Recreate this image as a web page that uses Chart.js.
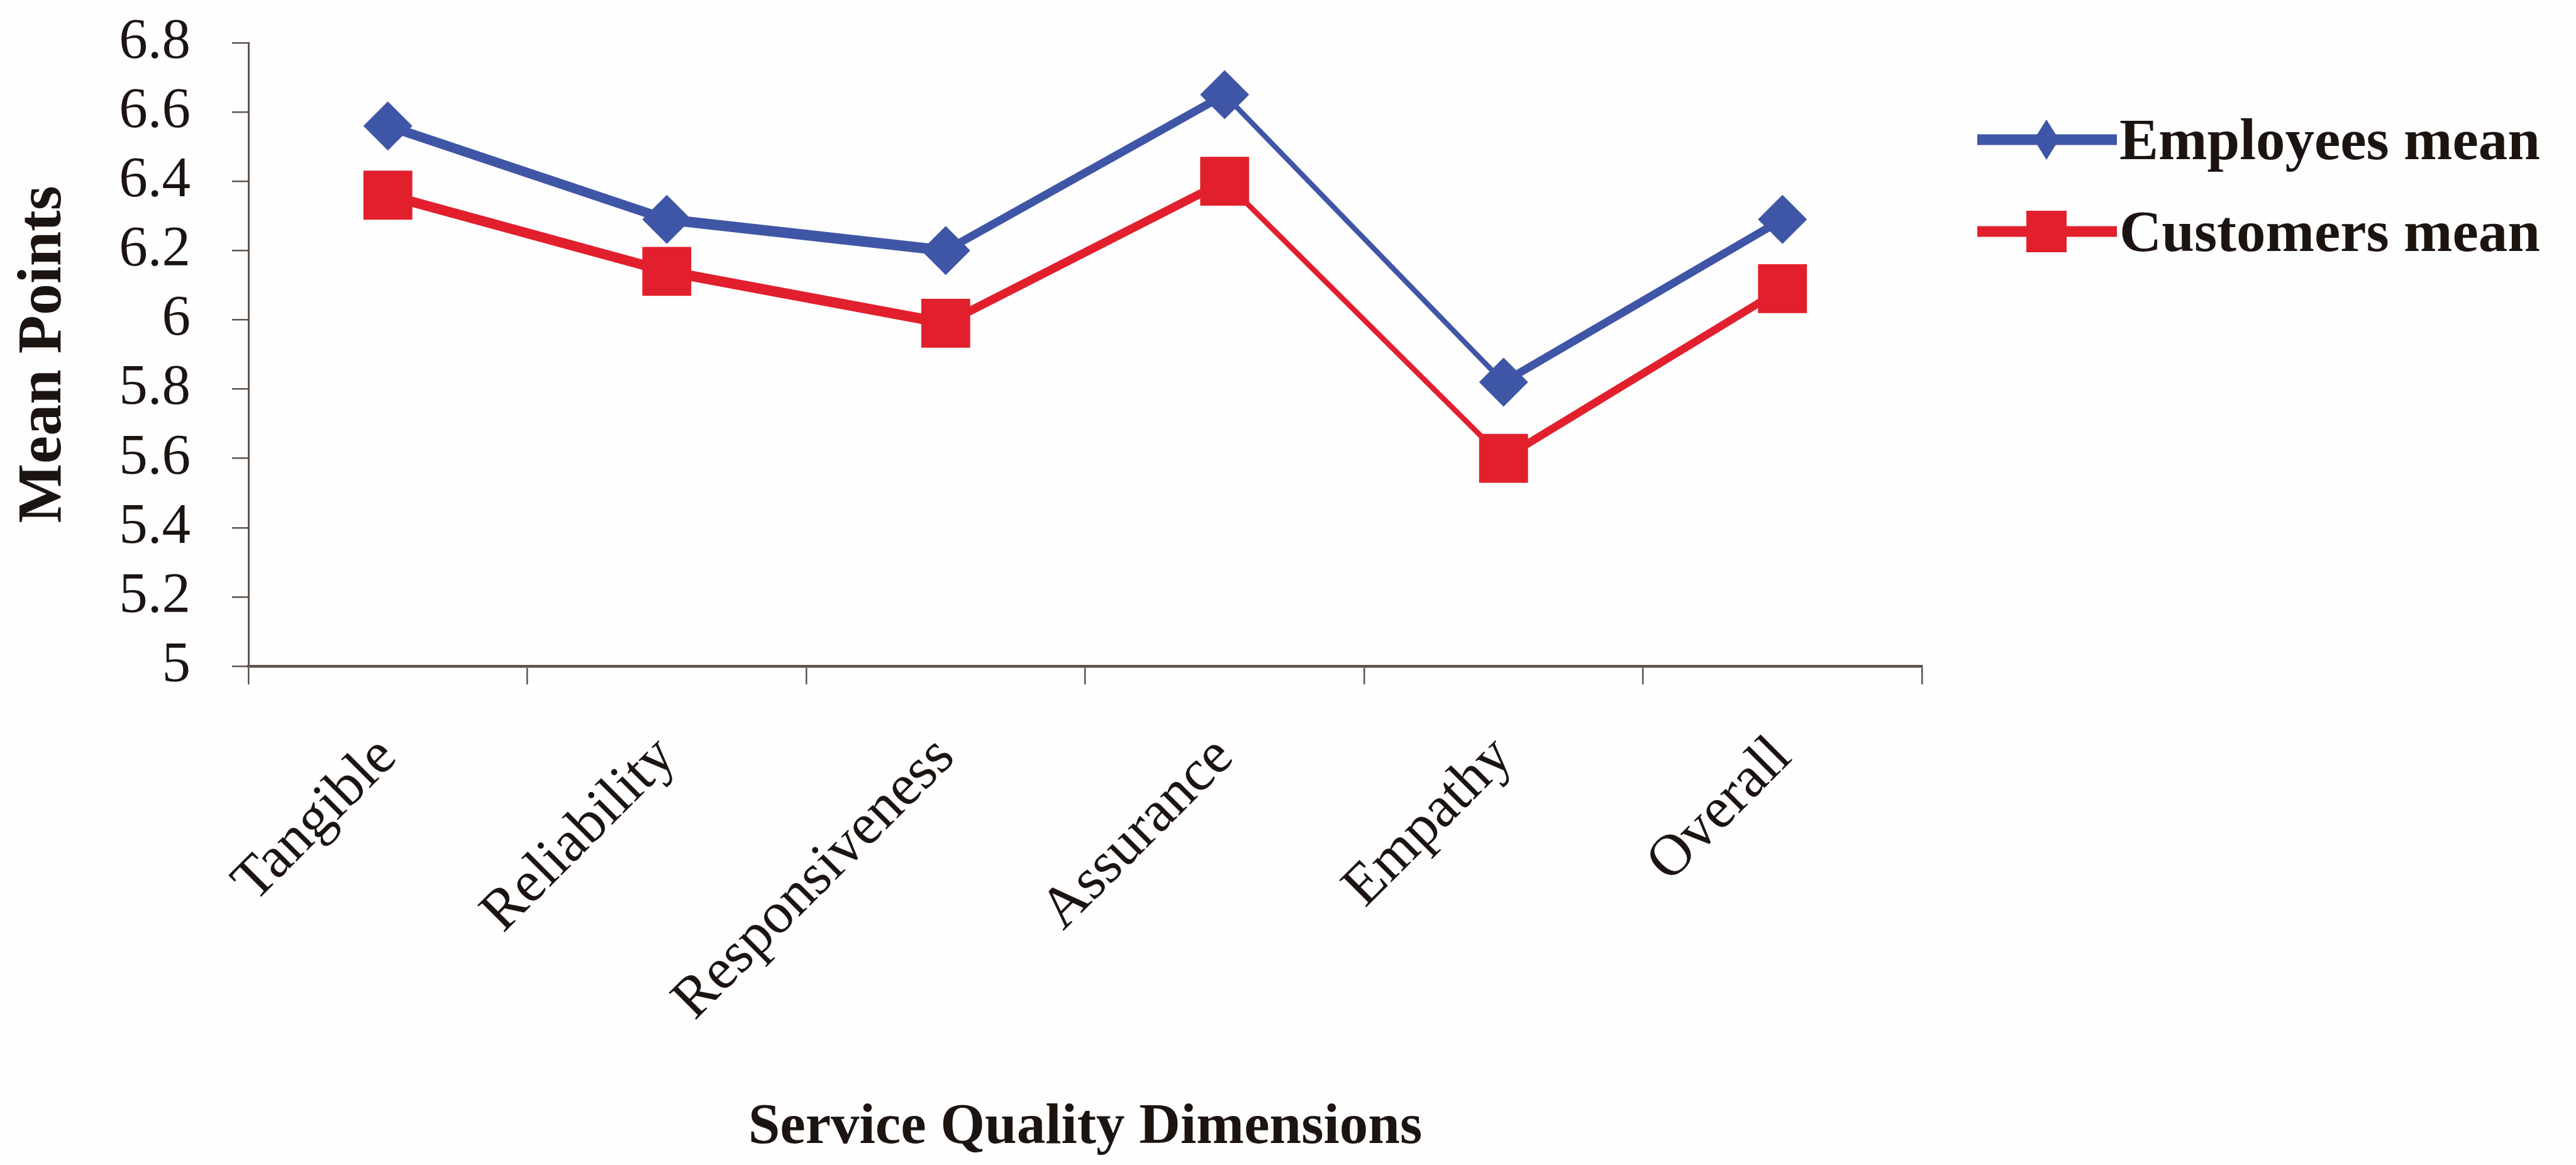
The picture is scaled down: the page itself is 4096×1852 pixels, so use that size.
<!DOCTYPE html>
<html>
<head>
<meta charset="utf-8">
<title>Service Quality Dimensions</title>
<script src="https://cdn.jsdelivr.net/npm/chart.js@4.4.1/dist/chart.umd.min.js"></script>
<style>
  html, body { margin: 0; padding: 0; background: #fefefe; }
  canvas { display: block; }
</style>
</head>
<body>
<canvas id="lineChart" width="4096" height="1852"></canvas>
<script>
// Values
const categories = ['Tangible', 'Reliability', 'Responsiveness', 'Assurance', 'Empathy', 'Overall'];
const employeesMean = [6.56, 6.29, 6.20, 6.65, 5.82, 6.29];
const customersMean = [6.36, 6.14, 5.99, 6.40, 5.60, 6.09];
const seriesLabels = ['Employees mean', 'Customers mean'];
const yTickValues = [5, 5.2, 5.4, 5.6, 5.8, 6, 6.2, 6.4, 6.6, 6.8];

const serif = "'Liberation Serif', 'Times New Roman', serif";
const ink = '#1c1411';
const axisColor = '#5e524a';
const blue = '#3f56a6';
const red = '#e2202d';

// the scanned lines are thick when flat and thinner when steep
function segmentWidth(ctx) {
    const dx = ctx.p1.x - ctx.p0.x;
    const dy = ctx.p1.y - ctx.p0.y;
    const c = dx / Math.hypot(dx, dy);
    return Math.max(7, 17 * c * c);
}

// paper coloured background
const paper = {
    id: 'paper',
    beforeDraw(chart) {
        const ctx = chart.ctx;
        ctx.save();
        ctx.fillStyle = '#fefefe';
        ctx.fillRect(0, 0, chart.width, chart.height);
        ctx.restore();
    }
};

// legend on the right: line with the marker in the middle, then the label
const sideLegend = {
    id: 'sideLegend',
    afterDraw(chart) {
        const ctx = chart.ctx;
        const rows = [222, 368];
        chart.data.datasets.forEach(function (ds, i) {
            const y = rows[i];
            const mx = 3254;
            ctx.save();
            ctx.strokeStyle = ds.borderColor;
            ctx.fillStyle = ds.borderColor;
            ctx.lineWidth = 17;
            ctx.beginPath();
            ctx.moveTo(3144, y);
            ctx.lineTo(3366, y);
            ctx.stroke();
            ctx.beginPath();
            if (ds.pointStyle === 'rectRot') {
                ctx.moveTo(mx, y - 32);
                ctx.lineTo(mx + 20, y);
                ctx.lineTo(mx, y + 32);
                ctx.lineTo(mx - 20, y);
                ctx.closePath();
            } else {
                ctx.rect(mx - 32, y - 33, 64, 66);
            }
            ctx.fill();
            ctx.fillStyle = ink;
            ctx.font = 'bold 93px ' + serif;
            ctx.textBaseline = 'alphabetic';
            ctx.textAlign = 'left';
            ctx.fillText(ds.label, 3370, y + 31);
            ctx.restore();
        });
    }
};

const ctx = document.getElementById('lineChart').getContext('2d');
const chart = new Chart(ctx, {
    type: 'line',
    data: {
        labels: categories,
        datasets: [{
            label: seriesLabels[0],
            data: employeesMean,
            borderColor: blue,
            backgroundColor: blue,
            pointBackgroundColor: blue,
            pointStyle: 'rectRot',
            pointRadius: 39,
            pointBorderWidth: 0,
            borderWidth: 17,
            segment: { borderWidth: segmentWidth },
            tension: 0,
            clip: false
        }, {
            label: seriesLabels[1],
            data: customersMean,
            borderColor: red,
            backgroundColor: red,
            pointBackgroundColor: red,
            pointStyle: 'rect',
            pointRadius: 55,
            pointBorderWidth: 0,
            borderWidth: 17,
            segment: { borderWidth: segmentWidth },
            tension: 0,
            clip: false
        }]
    },
    options: {
        responsive: false,
        animation: false,
        devicePixelRatio: 1,
        layout: { padding: { top: 68, right: 1040, left: 0, bottom: 0 } },
        scales: {
            x: {
                offset: true,
                grid: { offset: true, drawOnChartArea: false, drawTicks: true, tickLength: 29, color: axisColor, lineWidth: 2.5 },
                border: { display: true, color: axisColor, width: 4.5 },
                ticks: {
                    color: ink,
                    font: { family: serif, size: 93 },
                    minRotation: 45,
                    maxRotation: 45,
                    autoSkip: false,
                    padding: 62
                },
                title: {
                    display: true,
                    text: 'Service Quality Dimensions',
                    color: ink,
                    font: { family: serif, size: 91, weight: 'bold' },
                    padding: { top: 0, bottom: 4 }
                },
                afterFit: function (scale) {
                    scale.height = 793;
                    scale.paddingLeft = 0;
                    scale.paddingRight = 0;
                }
            },
            y: {
                min: 5,
                max: 6.8,
                afterBuildTicks: function (scale) {
                    scale.ticks = yTickValues.map(v => ({ value: v }));
                },
                grid: { drawOnChartArea: false, drawTicks: true, tickLength: 26, color: axisColor, lineWidth: 2.5 },
                border: { display: true, color: axisColor, width: 3 },
                ticks: {
                    color: ink,
                    font: { family: serif, size: 91 },
                    padding: 66,
                    autoSkip: false,
                    callback: v => String(Math.round(v * 10) / 10)
                },
                title: {
                    display: true,
                    text: 'Mean Points',
                    color: ink,
                    font: { family: serif, size: 100, weight: 'bold' },
                    padding: { top: 10, bottom: 0 }
                },
                afterFit: function (scale) {
                    scale.width = 395;
                    scale.paddingTop = 0;
                    scale.paddingBottom = 0;
                }
            }
        },
        plugins: {
            legend: { display: false },
            tooltip: { enabled: false }
        }
    },
    plugins: [paper, sideLegend]
});
</script>
</body>
</html>
